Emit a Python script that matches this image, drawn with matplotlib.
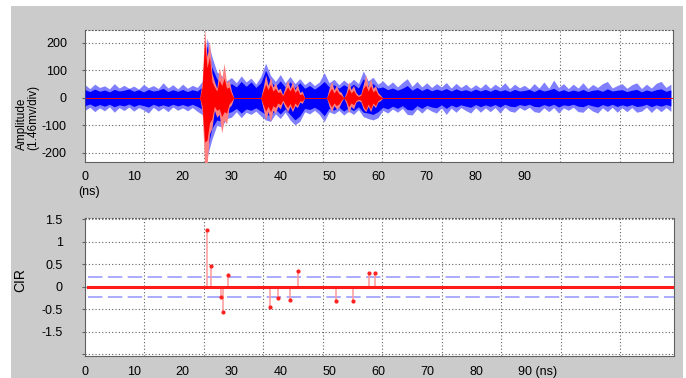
"""
plot.py -- received signal (blue) with the matched multipath bursts (red) on top,
and the estimated CIR taps with the +/- detection threshold below.
"""

import numpy as np
import matplotlib
matplotlib.use("Agg")
import matplotlib.pyplot as plt
from matplotlib.patches import Rectangle

# ---- top panel: signal envelope, 1 ns steps (0..120 ns) ----
SIG_T = np.arange(0, 121)
SIG_OUTER_HI = [48, 34, 50, 38, 44, 33, 52, 36, 46, 35,
                43, 32, 49, 37, 45, 34, 55, 36, 48, 33,
                50, 35, 46, 38, 60, 217, 150, 95, 80, 62,
                74, 55, 80, 58, 72, 50, 78, 126, 82, 60,
                85, 55, 78, 52, 70, 48, 62, 45, 58, 92,
                55, 68, 48, 65, 50, 68, 52, 98, 62, 75,
                50, 62, 44, 58, 40, 56, 70, 42, 60, 40,
                55, 38, 52, 40, 56, 36, 53, 38, 50, 35,
                48, 36, 52, 35, 50, 38, 55, 34, 50, 37,
                46, 33, 52, 36, 58, 35, 65, 38, 52, 34,
                50, 36, 55, 34, 49, 38, 52, 60, 36, 45,
                52, 35, 48, 55, 34, 50, 36, 53, 60, 38, 50]
SIG_OUTER_LO = [-45, -34, -50, -36, -47, -32, -52, -35, -46, -33,
                -48, -35, -44, -55, -34, -48, -36, -50, -33, -45,
                -36, -47, -35, -49, -60, -215, -150, -100, -105, -75,
                -70, -50, -72, -52, -60, -48, -65, -80, -85, -58,
                -75, -52, -80, -98, -85, -50, -58, -45, -60, -86,
                -50, -58, -45, -62, -48, -60, -42, -68, -75, -80,
                -72, -45, -55, -40, -52, -38, -60, -62, -40, -55,
                -38, -48, -55, -36, -60, -37, -52, -35, -46, -55,
                -35, -52, -36, -50, -35, -55, -34, -48, -52, -35,
                -45, -34, -50, -53, -36, -50, -35, -55, -36, -45,
                -34, -50, -52, -35, -48, -55, -36, -50, -34, -52,
                -36, -50, -35, -52, -48, -34, -53, -36, -50, -35, -49]
SIG_INNER_HI = [30, 23, 32, 24, 29, 22, 31, 25, 28, 33,
                24, 30, 22, 31, 25, 28, 35, 23, 30, 24,
                31, 23, 30, 25, 40, 190, 110, 70, 55, 42,
                52, 40, 60, 42, 58, 38, 55, 100, 60, 42,
                62, 40, 58, 38, 55, 35, 45, 32, 44, 60,
                40, 48, 35, 48, 38, 50, 36, 70, 45, 52,
                36, 40, 30, 36, 28, 35, 45, 28, 38, 27,
                35, 26, 32, 27, 34, 25, 33, 26, 30, 24,
                32, 25, 31, 24, 32, 25, 30, 23, 31, 25,
                27, 31, 23, 32, 25, 29, 35, 24, 30, 23,
                29, 24, 31, 23, 28, 30, 24, 33, 25, 28,
                30, 23, 28, 31, 22, 29, 24, 30, 33, 24, 29]
SIG_INNER_LO = [-28, -22, -31, -24, -30, -23, -32, -25, -29, -22,
                -31, -24, -28, -33, -23, -30, -25, -31, -23, -29,
                -24, -30, -23, -31, -40, -190, -110, -80, -85, -55,
                -50, -38, -55, -40, -45, -36, -48, -60, -65, -42,
                -58, -40, -60, -80, -65, -38, -42, -34, -45, -65,
                -38, -44, -34, -48, -36, -46, -32, -52, -55, -60,
                -50, -34, -40, -30, -38, -28, -42, -44, -28, -38,
                -27, -33, -36, -25, -38, -26, -33, -25, -30, -34,
                -24, -32, -25, -31, -24, -33, -23, -30, -32, -24,
                -28, -23, -31, -32, -24, -30, -23, -33, -25, -28,
                -23, -30, -32, -24, -29, -33, -24, -30, -23, -31,
                -25, -30, -24, -31, -29, -23, -32, -25, -30, -24, -29]

# red bursts (reconstructed paths), 0.5 ns steps from 23.5 to 61 ns
BURST_T = np.arange(23.5, 61.01, 0.5)
BURST_OUTER_HI = [0, 60, 250, 150, 205, 90, 60, 35, 110, 70, 126, 55, 65, 25, 0,
                  0, 0, 0, 0, 0, 0, 0, 0, 0, 0, 0,
                  40, 84, 45, 75, 40, 55, 30, 35, 12, 40, 65, 35, 60, 30, 50, 20, 25, 0,
                  0, 0, 0, 0, 0, 0, 0, 0, 0,
                  35, 60, 30, 45, 25, 20, 0, 20, 60, 30, 45, 20, 10, 15, 50, 84, 40, 70,
                  35, 45, 20, 10, 0]
BURST_OUTER_LO = [0, -50, -240, -245, -130, -110, -45, -70, -60, -128, -80, -95, -35, -25, 0,
                  0, 0, 0, 0, 0, 0, 0, 0, 0, 0, 0,
                  -40, -80, -50, -86, -45, -55, -30, -40, -15, -35, -50, -30, -50, -28, -35,
                  -15, -20, 0,
                  0, 0, 0, 0, 0, 0, 0, 0, 0,
                  -30, -50, -28, -40, -35, -15, 0, -20, -55, -30, -40, -15, -10, -15, -40,
                  -50, -30, -50, -25, -35, -15, -10, 0]
BURST_INNER_HI = [0, 40, 210, 110, 150, 60, 40, 25, 65, 45, 72, 35, 40, 15, 0,
                  0, 0, 0, 0, 0, 0, 0, 0, 0, 0, 0,
                  25, 50, 30, 50, 25, 35, 20, 22, 8, 25, 40, 25, 42, 20, 30, 12, 15, 0,
                  0, 0, 0, 0, 0, 0, 0, 0, 0,
                  20, 35, 18, 30, 15, 10, 0, 12, 35, 18, 28, 12, 5, 10, 35, 47, 25, 45,
                  22, 30, 12, 5, 0]
BURST_INNER_LO = [0, -30, -160, -153, -90, -75, -30, -45, -40, -68, -50, -55, -22, -12, 0,
                  0, 0, 0, 0, 0, 0, 0, 0, 0, 0, 0,
                  -25, -48, -30, -50, -28, -35, -18, -25, -8, -22, -35, -20, -40, -18, -28,
                  -10, -12, 0,
                  0, 0, 0, 0, 0, 0, 0, 0, 0,
                  -18, -33, -18, -28, -22, -8, 0, -10, -32, -18, -25, -10, -5, -8, -30,
                  -44, -22, -40, -18, -28, -10, -5, 0]

# ---- bottom panel: CIR taps ----
CIR_T = [24.9, 25.8, 27.8, 28.3, 29.2, 37.8, 39.5, 41.9, 43.6, 51.3, 54.8, 58.1, 59.4]
CIR_V = [1.27, 0.46, -0.22, -0.56, 0.27, -0.44, -0.24, -0.29, 0.34, -0.31, -0.31, 0.30, 0.30]
THRESHOLD = 0.22

# tick texts exactly as they appear on the original figure
X_LABELS = [0, 10, 20, 30, 40, 50, 60, 70, 80, 90]
TOP_Y_TICKS = [200, 100, 0, -100, -200]
BOT_Y_TICKS = [1.5, 1, 0.5, 0, -0.5, -1, -1.5]
BOT_Y_LABELS = ["1.5", "1", "0.5", "0", "-0.5", "-1.5", ""]

X_MAX = 120.5
GRID_STEP = 12.17
FONT = "Liberation Sans"


def style_axes(ax):
    ax.set_facecolor("white")
    ax.set_xlim(0, X_MAX)
    ax.set_xticks([GRID_STEP * k for k in range(1, 10)])
    ax.set_xticklabels([])
    ax.tick_params(axis="x", length=0)
    ax.grid(True, color="#606060", linestyle=(0, (1, 2)), linewidth=0.8)
    for side in ("left", "right", "bottom"):
        ax.spines[side].set_color("#606060")
        ax.spines[side].set_linewidth(0.8)
    ax.spines["top"].set_linestyle((0, (1, 2)))
    ax.spines["top"].set_color("#606060")


def main():
    plt.rcParams["font.family"] = FONT
    fig = plt.figure(figsize=(6.86, 3.78), dpi=100)
    fig.patch.set_facecolor("white")
    fig.patches.append(Rectangle((11 / 686, 0), 672 / 686, 372 / 378,
                                 transform=fig.transFigure, facecolor="#cbcbcb",
                                 edgecolor="none", zorder=-10))

    # top: received signal + red path bursts
    ax1 = fig.add_axes([85 / 686, 215.7 / 378, 588.3 / 686, 132.6 / 378])
    style_axes(ax1)
    ax1.fill_between(SIG_T, SIG_OUTER_LO, SIG_OUTER_HI, color="#8080ff", lw=0, zorder=2)
    ax1.fill_between(SIG_T, SIG_INNER_LO, SIG_INNER_HI, color="#0000ff", lw=0, zorder=3)
    ax1.fill_between(BURST_T, BURST_OUTER_LO, BURST_OUTER_HI, color="#ff8080", lw=0, zorder=4)
    ax1.fill_between(BURST_T, BURST_INNER_LO, BURST_INNER_HI, color="#ff0000", lw=0, zorder=5)
    ax1.plot([0.3, X_MAX], [0, 0], color="#ff0000", lw=0.7, zorder=6)
    ax1.set_ylim(-234, 248)
    ax1.set_yticks(TOP_Y_TICKS)
    ax1.set_yticklabels([str(v) for v in TOP_Y_TICKS], fontsize=9)
    ax1.tick_params(axis="y", length=2, pad=11, color="#606060")
    for v in X_LABELS:
        ax1.annotate(str(v), xy=(v, 0), xycoords=("data", "axes fraction"),
                     xytext=(0, -10.5), textcoords="offset points",
                     ha="center", va="center", fontsize=9)
    ax1.annotate("(ns)", xy=(0, 0), xycoords="axes fraction", xytext=(-5, -21.5),
                 textcoords="offset points", ha="left", va="center", fontsize=9)
    fig.text(27.5 / 686, 1 - 117 / 378, "Amplitude\n(1.46mv/div)", rotation=90,
             ha="center", va="center", multialignment="left", fontsize=8.5,
             linespacing=1.0)

    # bottom: CIR taps with detection threshold
    ax2 = fig.add_axes([85 / 686, 22.3 / 378, 589 / 686, 138 / 378])
    style_axes(ax2)
    ax2.plot([0.6, X_MAX], [THRESHOLD, THRESHOLD], color="#a5a5ff", lw=1.3,
             dashes=(8, 3), zorder=2)
    ax2.plot([0.6, X_MAX], [-THRESHOLD, -THRESHOLD], color="#a5a5ff", lw=1.3,
             dashes=(8, 3), zorder=2)
    ax2.vlines(CIR_T, 0, CIR_V, color="#ff9a9a", lw=1.1, zorder=3)
    ax2.plot(CIR_T, CIR_V, "o", color="#ff2020", ms=2.0, zorder=4)
    ax2.plot([0.6, X_MAX], [0, 0], color="#ff1a1a", lw=2.2, zorder=5)
    ax2.set_ylim(-1.533, 1.533)
    ax2.set_yticks(BOT_Y_TICKS)
    ax2.set_yticklabels(BOT_Y_LABELS, fontsize=9)
    ax2.tick_params(axis="y", length=2, pad=14, color="#606060")
    for v in X_LABELS[:-1]:
        ax2.annotate(str(v), xy=(v, 0), xycoords=("data", "axes fraction"),
                     xytext=(0, -11.5), textcoords="offset points",
                     ha="center", va="center", fontsize=9)
    ax2.annotate("90 (ns)", xy=(X_LABELS[-1], 0), xycoords=("data", "axes fraction"),
                 xytext=(-5, -11.5), textcoords="offset points",
                 ha="left", va="center", fontsize=9)
    fig.text(20 / 686, 1 - 280 / 378, "CIR", rotation=90, ha="center", va="center",
             fontsize=10)

    fig.savefig("out.png", dpi=100, facecolor=fig.get_facecolor())


if __name__ == "__main__":
    assert len(SIG_OUTER_HI) == len(SIG_T) == len(SIG_INNER_LO)
    assert len(BURST_OUTER_HI) == len(BURST_T) == len(BURST_INNER_LO)
    main()
